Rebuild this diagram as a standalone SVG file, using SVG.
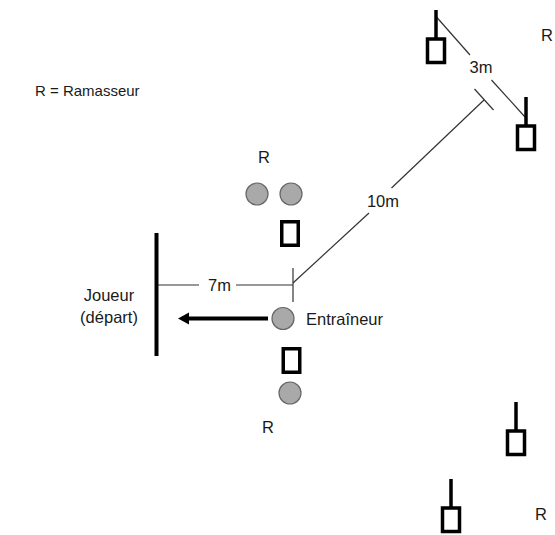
<svg xmlns="http://www.w3.org/2000/svg" width="555" height="535" viewBox="0 0 555 535">
<style>
  text { font-family: "Liberation Sans", Arial, sans-serif; font-size: 16.5px; fill: #1a1a1a; }
  .legend { font-size: 15px; }
  .thin { stroke: #333; stroke-width: 1.2; fill: none; }
  .thick { stroke: #000; stroke-width: 4; fill: none; }
  .ball { fill: #a9a9a9; stroke: #666; stroke-width: 1.2; }
  .box { fill: #fff; stroke: #000; stroke-width: 3.5; }
</style>
<defs>
  <g id="goal">
    <line x1="0" y1="0" x2="0" y2="41" stroke="#000" stroke-width="3.5"/>
    <rect x="-8.5" y="29" width="17" height="23.5" class="box" fill="none"/>
  </g>
</defs>
<rect width="555" height="535" fill="#fff"/>

<g id="connectors">
  <!-- 3m dimension -->
  <line class="thin" x1="436.5" y1="17" x2="470" y2="55"/>
  <line class="thin" x1="491.5" y1="80" x2="525" y2="117"/>
  <!-- 10m dimension -->
  <line class="thin" x1="293" y1="283" x2="369" y2="213"/>
  <line class="thin" x1="391.5" y1="188" x2="484" y2="100"/>
  <line class="thin" x1="474.5" y1="89" x2="493.5" y2="110"/>
  <!-- 7m dimension -->
  <line class="thin" x1="157" y1="285" x2="199" y2="285"/>
  <line class="thin" x1="236" y1="285" x2="293" y2="285"/>
  <line class="thin" x1="293" y1="268" x2="293" y2="302"/>
  <!-- arrow -->
  <line class="thick" x1="268" y1="318.5" x2="186" y2="318.5"/>
  <polygon points="178,318.5 189,312.5 189,324.5" fill="#000"/>
</g>

<g id="legend"><text class="legend" x="35" y="96">R = Ramasseur</text></g>

<g id="depart">
  <line class="thick" x1="156.5" y1="233" x2="156.5" y2="356"/>
  <text x="109" y="301" text-anchor="middle">Joueur</text>
  <text x="109" y="323" text-anchor="middle">(départ)</text>
</g>

<g id="ramasseurs-haut">
  <text x="258" y="163">R</text>
  <circle class="ball" cx="257" cy="194" r="11"/>
  <circle class="ball" cx="291" cy="194" r="11"/>
</g>
<g id="plot-haut"><rect class="box" x="281.75" y="221.75" width="16.5" height="23.5"/></g>

<g id="entraineur">
  <circle class="ball" cx="283" cy="318.5" r="11"/>
  <text x="306" y="325">Entraîneur</text>
</g>

<g id="plot-bas"><rect class="box" x="283.25" y="348.75" width="16.5" height="23.5"/></g>

<g id="ramasseur-bas">
  <circle class="ball" cx="290" cy="393" r="11"/>
  <text x="262" y="433">R</text>
</g>

<g id="but-1"><use href="#goal" x="436" y="10"/></g>
<g id="but-2"><use href="#goal" x="526" y="97"/></g>
<g id="but-3"><use href="#goal" x="516" y="402"/></g>
<g id="but-4"><use href="#goal" x="451" y="479"/></g>

<g id="label-3m"><text x="481" y="73" text-anchor="middle">3m</text></g>
<g id="label-10m"><text x="383" y="207" text-anchor="middle">10m</text></g>
<g id="label-7m"><text x="219.5" y="291" text-anchor="middle">7m</text></g>

<g id="r-haut-droite"><text x="541" y="41">R</text></g>
<g id="r-bas-droite"><text x="535" y="520">R</text></g>
</svg>
